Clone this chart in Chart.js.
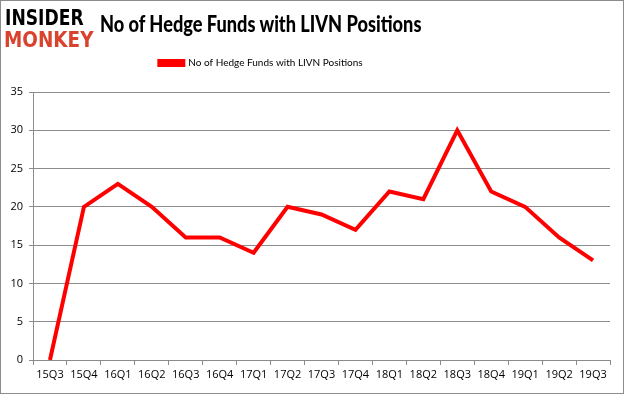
<!DOCTYPE html>
<html>
<head>
<meta charset="utf-8">
<script src="https://cdn.jsdelivr.net/npm/chart.js@4/dist/chart.umd.min.js"></script>
<style>
  html, body { margin:0; padding:0; background:#fff; }
  #wrap { position:relative; width:625px; height:395px; overflow:hidden; }
  #frame { position:absolute; left:0; top:0; width:622px; height:392px; border:1px solid #8c8c8c; pointer-events:none; }
  #c { position:absolute; left:0; top:0; }
  .logo { position:absolute; font-family:"DejaVu Sans"; font-weight:bold; transform-origin:0 0; white-space:nowrap; line-height:1; }
  #title { position:absolute; left:100px; top:9px; font-family:"Lato"; font-weight:900; font-size:23px; color:#000; white-space:nowrap; transform-origin:0 0; transform:scale(0.79,1); }
</style>
</head>
<body>
<div id="wrap">
  <canvas id="c" width="625" height="395"></canvas>
  <div class="logo" style="left:5px;top:8px;font-size:22px;color:#000;transform:scale(0.78,0.95);">INSIDER</div>
  <div class="logo" style="left:4px;top:29px;font-size:23px;color:#d9432d;transform:scale(0.8,0.95);">MONKEY</div>
  <div id="title">No of Hedge Funds with LIVN Positions</div>
  <div id="frame"></div>
</div>
<script>
const categories = ["15Q3","15Q4","16Q1","16Q2","16Q3","16Q4","17Q1","17Q2","17Q3","17Q4","18Q1","18Q2","18Q3","18Q4","19Q1","19Q2","19Q3"];
const hedgeFunds = [0,20,23,20,16,16,14,20,19,17,22,21,30,22,20,16,13];
const seriesName = "No of Hedge Funds with LIVN Positions";
const yTicks = [0,5,10,15,20,25,30,35];

const tickFont = { family: "Open Sans", size: 11 };
const legendShift = {
  id: 'legendShift',
  afterLayout(chart) {
    const lg = chart.legend;
    if (lg) { lg.left -= 48; lg.right -= 48; lg.top -= 14; lg.bottom -= 14; }
  }
};
new Chart(document.getElementById('c'), {
  type: 'line',
  data: {
    labels: categories,
    datasets: [{
      label: seriesName,
      data: hedgeFunds,
      borderColor: '#ff0000',
      backgroundColor: '#ff0000',
      borderWidth: 4,
      pointRadius: 0,
      tension: 0,
      borderJoinStyle: 'miter'
    }]
  },
  plugins: [legendShift],
  options: {
    responsive: false,
    animation: false,
    devicePixelRatio: 1,
    layout: { padding: { left: 8, right: 15, top: 50, bottom: 11 } },
    plugins: {
      legend: {
        display: true,
        position: 'top',
        labels: {
          boxWidth: 24, boxHeight: 4, color: '#000',
          font: { family: "Lato", size: 10 },
          padding: 22
        }
      },
      title: { display: false },
      tooltip: { enabled: false }
    },
    scales: {
      x: {
        offset: true,
        grid: { display: true, drawOnChartArea: false, drawTicks: true, tickLength: 5, color: '#8c8c8c', offset: true },
        border: { color: '#8c8c8c', width: 1 },
        ticks: { color: '#000', font: tickFont, maxRotation: 0, autoSkip: false, padding: 3 },
        afterFit: s => { s.height = 24; }
      },
      y: {
        min: 0, max: 35,
        afterBuildTicks: s => { s.ticks = yTicks.map(v => ({ value: v })); },
        grid: { color: '#8c8c8c', tickLength: 4 },
        border: { color: '#8c8c8c', width: 1 },
        ticks: { color: '#000', font: tickFont, padding: 6 },
        afterFit: s => { s.width = 25; }
      }
    }
  }
});
</script>
</body>
</html>
